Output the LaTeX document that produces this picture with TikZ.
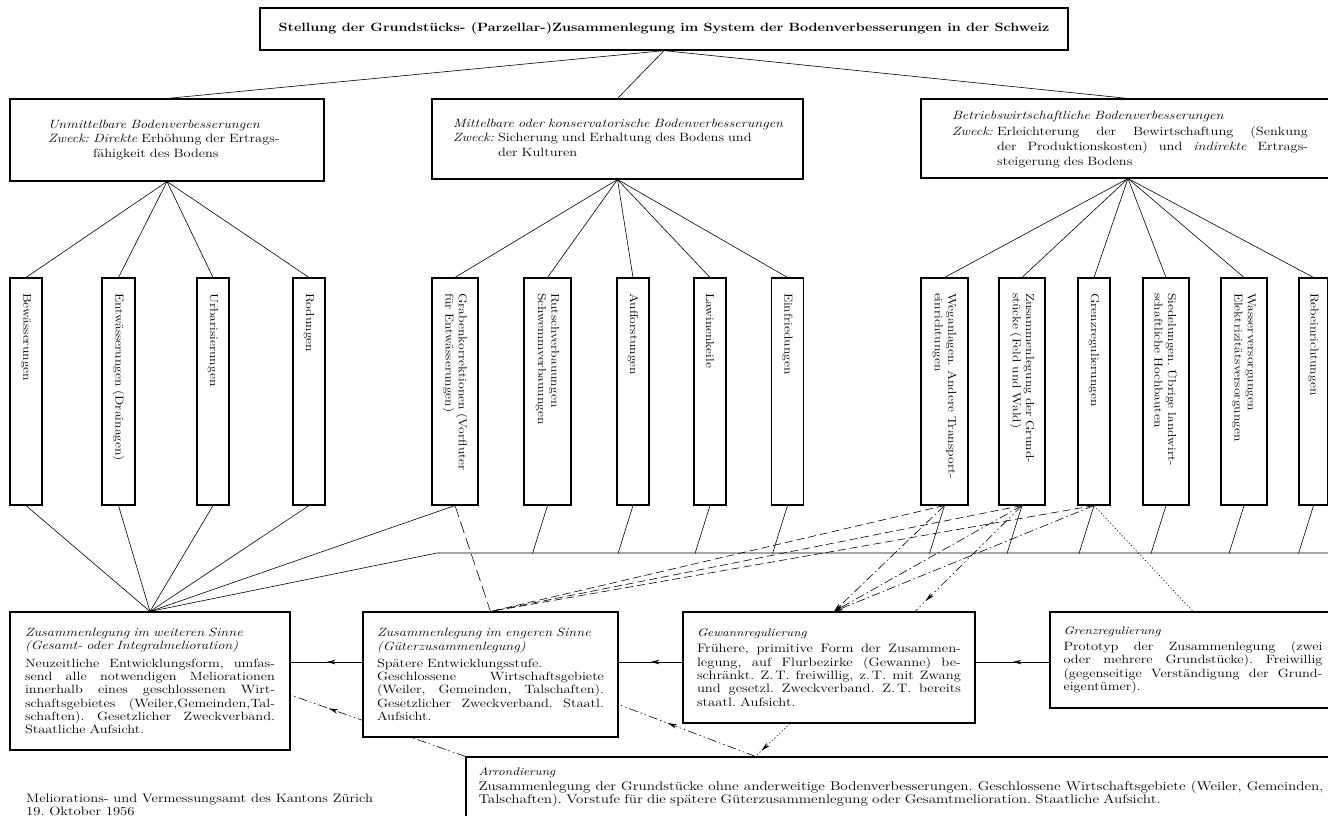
\documentclass[tikz,border=0pt]{standalone}
\usepackage{fontspec}
\setmainfont{Latin Modern Roman}[FakeStretch=1.2]
\usetikzlibrary{arrows.meta,decorations.markings,backgrounds,calc}
\frenchspacing
\newcommand\myBody{\fontsize{12}{13.3}\selectfont}
\newcommand\myVert{\fontsize{11.4}{13.3}\selectfont}
\newcommand\mySmall{\fontsize{11}{13}\selectfont}
\newcommand\myTitle{\fontsize{12}{15}\selectfont\bfseries}
\newcommand\jl[1]{\makebox[\hsize][s]{\spaceskip=0pt\xspaceskip=0pt #1}\\}
\newcommand\vl[1]{\mbox{\hspace{7.5pt}#1}}
\tikzset{
  box/.style={draw, line width=1.1pt, fill=white},
  catbox/.style={box, align=left, font=\myBody, inner ysep=2pt},
  infobox/.style={box, align=left, font=\myBody, inner ysep=2pt},
  vbox/.style={box, rotate=-90, minimum width=227pt, text width=212pt,
     inner xsep=7.5pt, inner ysep=2pt, align=left, font=\myVert},
  conn/.style={line width=0.6pt},
  longdash/.style={conn, dash pattern=on 12pt off 5pt},
  meddash/.style={conn, dash pattern=on 8pt off 4pt},
  dashdot/.style={conn, dash pattern=on 9pt off 3pt on 1.5pt off 3pt},
  dashdotdot/.style={conn, dash pattern=on 9pt off 3pt on 1.5pt off 3pt on 1.5pt off 3pt},
  finedot/.style={conn, dash pattern=on 1.2pt off 2.2pt},
  midarrow/.style={postaction={decorate}, decoration={markings,
     mark=at position #1 with {\arrow{Stealth[length=9pt,width=4.5pt]}}}},
  midarrow/.default=0.5,
  tip/.style={-{Stealth[length=9pt,width=4.5pt]}}
}
\begin{document}
\begin{tikzpicture}[x=1pt,y=-1pt]
\useasboundingbox (0,0) rectangle (1328,816);
% title
\node[box, line width=1.3pt, minimum width=808pt, minimum height=42pt, font=\myTitle] (title) at (664,29)
 {Stellung der Grundstücks- (Parzellar-)Zusammenlegung im System der Bodenverbesserungen in der Schweiz};
% category boxes
\def\arraystretch{1.1}
\node[catbox, minimum height=82pt, text width=238pt, inner xsep=38pt] (c1) at (167,140)
 {\begin{tabular}{@{}l@{\hspace{4pt}}l@{}}
  \multicolumn{2}{@{}l@{}}{\itshape Unmittelbare Bodenverbesserungen}\\
  \itshape Zweck: & \textit{Direkte} Erhöhung der Ertrags-\\
  & fähigkeit des Bodens
 \end{tabular}};
\node[catbox, minimum height=80pt, text width=329pt, inner xsep=21pt] (c2) at (617.5,139)
 {\begin{tabular}{@{}l@{\hspace{4pt}}l@{}}
  \multicolumn{2}{@{}l@{}}{\itshape Mittelbare oder konservatorische Bodenverbesserungen}\\
  \itshape Zweck: & Sicherung und Erhaltung des Bodens und\\
  & der Kulturen
 \end{tabular}};
\node[catbox, minimum height=79pt, text width=352pt, inner xsep=31pt] (c3) at (1128,138.5)
 {\begin{tabular}{@{}l@{\hspace{4pt}}l@{}}
  \multicolumn{2}{@{}l@{}}{\itshape Betriebswirtschaftliche Bodenverbesserungen}\\[1pt]
  \itshape Zweck: & \parbox[t]{311pt}{\fontsize{12}{14.8}\selectfont\jl{Erleichterung der Bewirtschaftung (Senkung}\jl{der Produktionskosten) und \textit{indirekte} Ertrags-}steigerung des Bodens}
 \end{tabular}};
% vertical boxes
\node[vbox, minimum height=32pt] (v1) at (26,391.5) {\vl{Bewässerungen}};
\node[vbox, minimum height=33pt] (v2) at (118.5,391.5) {\vl{Entwässerungen (Drainagen)}};
\node[vbox, minimum height=32pt] (v3) at (213,391.5) {\vl{Urbarisierungen}};
\node[vbox, minimum height=32pt] (v4) at (309,391.5) {\vl{Rodungen}};
\node[vbox, minimum height=46pt] (v5) at (455,391.5) {\vl{Grabenkorrektionen (Vorfluter}\\\vl{für Entwässerungen)}};
\node[vbox, minimum height=47pt] (v6) at (547.5,391.5) {\vl{Rutschverbauungen}\\\vl{Schwemmverbauungen}};
\node[vbox, minimum height=32pt] (v7) at (633,391.5) {\vl{Aufforstungen}};
\node[vbox, minimum height=32pt] (v8) at (710,391.5) {\vl{Lawinenkeile}};
\node[vbox, minimum height=32pt] (v9) at (787.5,391.5) {\vl{Einfriedungen}};
\node[vbox, minimum height=47pt] (v10) at (944.5,391.5) {\vl{Weganlagen. Andere Transport-}\\\vl{einrichtungen}};
\node[vbox, minimum height=46pt] (v11) at (1022,391.5) {\vl{Zusammenlegung der Grund-}\\\vl{stücke (Feld und Wald)}};
\node[vbox, minimum height=32pt] (v12) at (1094,391.5) {\vl{Grenzregulierungen}};
\node[vbox, minimum height=46pt] (v13) at (1166,391.5) {\vl{Siedelungen. Übrige landwirt-}\\\vl{schaftliche Hochbauten}};
\node[vbox, minimum height=46pt] (v14) at (1244,391.5) {\vl{Wasserversorgungen}\\\vl{Elektrizitätsversorgungen}};
\node[vbox, minimum height=29pt] (v15) at (1313.5,391.5) {\vl{Rebeinrichtungen}};
% bottom boxes
\node[infobox, minimum height=138pt, text width=250pt, inner xsep=15pt] (w) at (150,681)
 {{\itshape Zusammenlegung im weiteren Sinne\\(Gesamt- oder Integralmelioration)\par}\vspace{4pt}
 \jl{Neuzeitliche Entwicklungsform, umfas-}\jl{send alle notwendigen Meliorationen}\jl{innerhalb eines geschlossenen Wirt-}\jl{schaftsgebietes (Weiler,Gemeinden,Tal-}\jl{schaften). Gesetzlicher Zweckverband.}Staatliche Aufsicht.};
\node[infobox, minimum height=125pt, text width=227pt, inner xsep=14pt] (e) at (490.5,674.5)
 {{\itshape Zusammenlegung im engeren Sinne\\(Güterzusammenlegung)\par}\vspace{4pt}
 Spätere Entwicklungsstufe.\\
 \jl{Geschlossene Wirtschaftsgebiete}\jl{(Weiler, Gemeinden, Talschaften).}\jl{Gesetzlicher Zweckverband. Staatl.}Aufsicht.};
\node[infobox, minimum height=111pt, text width=264pt, inner xsep=14pt, font=\fontsize{12.2}{13.3}\selectfont] (gw) at (829,667.5)
 {{\mySmall\itshape Gewannregulierung\par}\vspace{3pt}
 \jl{Frühere, primitive Form der Zusammen-}\jl{legung, auf Flurbezirke (Gewanne) be-}\jl{schränkt. Z.\,T. freiwillig, z.\,T. mit Zwang}\jl{und gesetzl. Zweckverband. Z.\,T. bereits}staatl. Aufsicht.};
\node[infobox, minimum height=96pt, text width=259pt, inner xsep=13.5pt] (gr) at (1193,660)
 {{\mySmall\itshape Grenzregulierung\par}\vspace{3pt}
 \jl{Prototyp der Zusammenlegung (zwei}\jl{oder mehrere Grundstücke). Freiwillig}\jl{(gegenseitige Verständigung der Grund-}eigentümer).};
\node[infobox, minimum height=61pt, text width=845pt, inner xsep=12.5pt, font=\fontsize{12.6}{12.2}\selectfont] (ar) at (901,787.5)
 {{\mySmall\itshape Arrondierung\par}\vspace{2pt}
 \jl{Zusammenlegung der Grundstücke ohne anderweitige Bodenverbesserungen. Geschlossene Wirtschaftsgebiete (Weiler, Gemeinden,}Talschaften). Vorstufe für die spätere Güterzusammenlegung oder Gesamtmelioration. Staatliche Aufsicht.};
% footer
\node[anchor=north west, inner sep=0pt, align=left, font=\fontsize{12.2}{12.5}\selectfont] (foot) at (26,794)
 {Meliorations- und Vermessungsamt des Kantons Zürich\\19. Oktober 1956};
% helper coordinates
\coordinate (busL) at (437,553);
\coordinate (busR) at (1340,553);
\coordinate (yar) at (0,662);
\coordinate (gwA) at ($(gw.north)+(5,0)$);
\coordinate (gwB) at ($(gw.north)+(86,0)$);
\coordinate (arT) at ($(ar.north west)+(290,0)$);
\begin{pgfonlayer}{background}
 \foreach \c in {c1,c2,c3} \draw[conn] (title.south) -- (\c.north);
 \foreach \i in {1,...,4} \draw[conn] (c1.south) -- (v\i.west);
 \foreach \i in {5,...,9} \draw[conn] (c2.south) -- (v\i.west);
 \foreach \i in {10,...,15} \draw[conn] (c3.south) -- (v\i.west);
 \foreach \i in {1,...,5} \draw[conn] (v\i.east) -- (w.north);
 \draw[conn] (w.north) -- (busL) -- (busR);
 \foreach \i in {6,...,15} \draw[conn] (v\i.east) -- ++(-15,48);
 \draw[longdash] (v5.east) -- (e.north);
 \foreach \i in {10,11,12} \draw[meddash] (v\i.east) -- (e.north);
 \foreach \i in {10,11,12} \draw[dashdot, tip] (v\i.east) -- (gwA);
 \draw[dashdotdot, midarrow=0.9] (v11.east) -- (gwB);
 \draw[finedot] (v12.east) -- (gr.north);
 \draw[conn, midarrow] (e.west |- yar) -- (w.east |- yar);
 \draw[conn, midarrow] (gw.west |- yar) -- (e.east |- yar);
 \draw[conn, midarrow] (gr.west |- yar) -- (gw.east |- yar);
 \draw[dashdotdot, midarrow=0.78] (ar.north west) -- ($(w.east)+(0,14)$);
 \draw[dashdotdot, midarrow=0.64] (arT) -- ($(e.east)+(0,30)$);
 \draw[finedot, midarrow=0.82] ($(gw.south)+(-39,0)$) -- (arT);
\end{pgfonlayer}
\end{tikzpicture}
\end{document}
